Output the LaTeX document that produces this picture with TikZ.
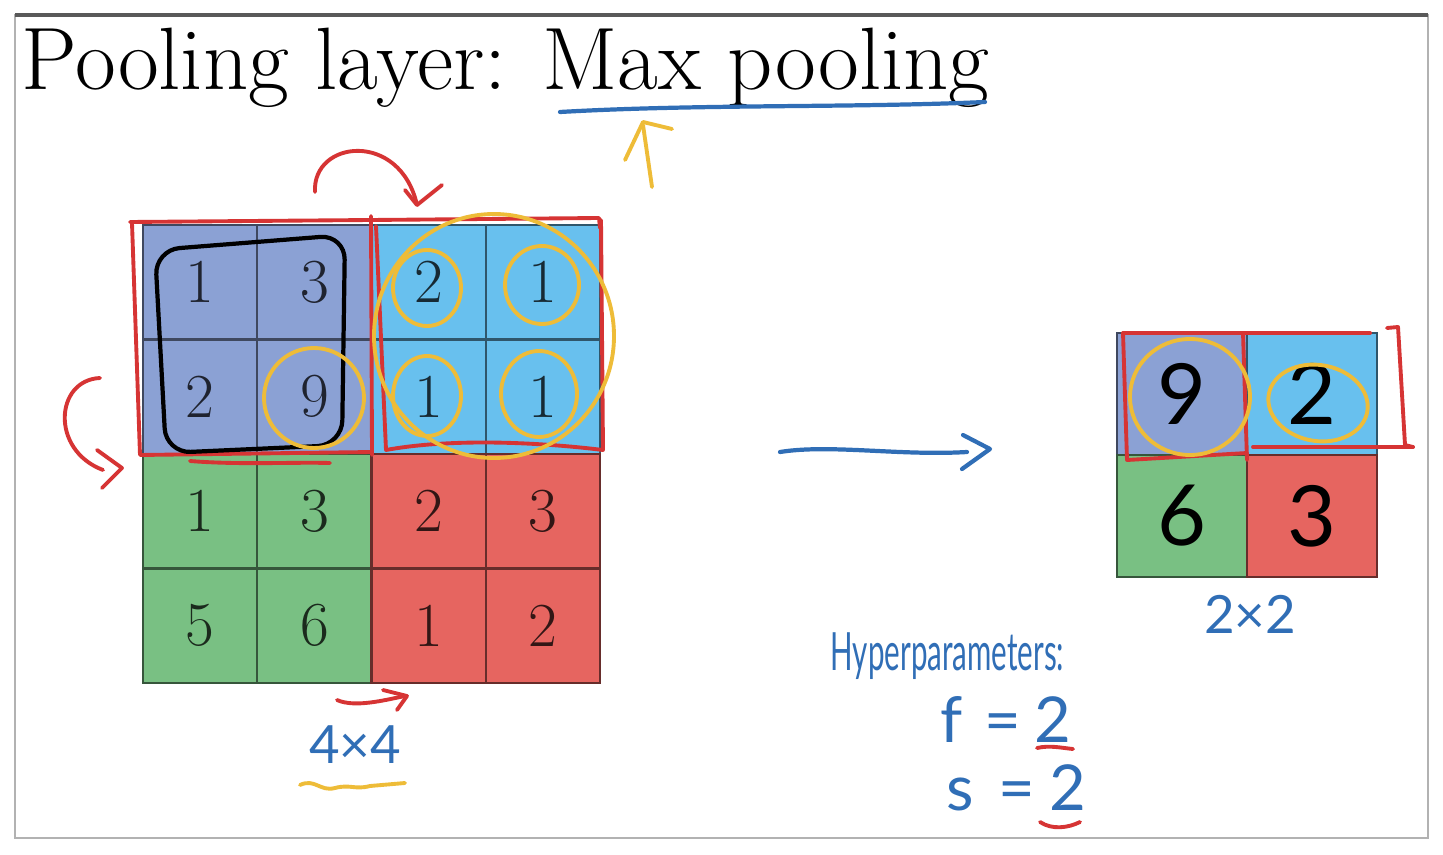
\documentclass[tikz,border=0pt]{standalone}
\usepackage{fontspec}
\newfontfamily\hand{Lato}
\usetikzlibrary{arrows.meta, positioning, calc}
\definecolor{cTL}{RGB}{139,161,212}
\definecolor{cTR}{RGB}{104,192,238}
\definecolor{cBL}{RGB}{121,192,131}
\definecolor{cBR}{RGB}{230,101,96}
\definecolor{cRed}{RGB}{214,52,52}
\definecolor{cYel}{RGB}{238,188,56}
\definecolor{cBlue}{RGB}{48,110,182}
\tikzset{
	cell/.style   ={rectangle, minimum width=1.1425cm, minimum height=1.145cm, inner sep=0pt, line width=0.6pt, font=\fontsize{17.8}{20}\selectfont},
	outcell/.style={rectangle, minimum width=1.3cm, minimum height=1.22cm, inner sep=0pt, line width=0.6pt, font=\hand\fontsize{24}{26}\selectfont},
	redpen/.style ={draw=cRed, line width=1.1pt, line cap=round, line join=round},
	yelpen/.style ={draw=cYel, line width=1.1pt, line cap=round, line join=round},
	bluepen/.style={draw=cBlue, line width=1.2pt, line cap=round, line join=round},
	inkpen/.style ={draw=black, line width=1.2pt, line cap=round, rounded corners=7pt},
	note/.style   ={text=cBlue, font=\hand\fontsize{15}{17}\selectfont, inner sep=0pt},
}

\begin{document}
\begin{tikzpicture}[x=0.01cm, y=-0.01cm,
					title/.style={font=\fontsize{25.2}{28}\selectfont, inner sep=0pt}]
	\fill[white] (0,0) rectangle (1443,855);
	\useasboundingbox (0,0) rectangle (1443,855);
	\draw[gray!60, line width=0.8pt] (15,15) rectangle (1428,838);
	\draw[gray!70!black, line width=1.2pt] (15,15) -- (1428,15);

	\node[title, anchor=base west] (title) at (21,90) {Pooling layer: Max pooling};
	\draw[bluepen] (560,112) .. controls (700,104) and (850,108) .. (985,102);
	\draw[yelpen] (652,187) -- (643,125);
	\draw[yelpen] (625,160) -- (643,122) -- (672,129);

	\foreach \v/\i/\j/\c in {1/0/0/cTL, 3/1/0/cTL, 2/0/1/cTL, 9/1/1/cTL,
							 2/2/0/cTR, 1/3/0/cTR, 1/2/1/cTR, 1/3/1/cTR,
							 1/0/2/cBL, 3/1/2/cBL, 5/0/3/cBL, 6/1/3/cBL,
							 2/2/2/cBR, 3/3/2/cBR, 1/2/3/cBR, 2/3/3/cBR}
		\node[cell, fill=\c, draw=\c!45!black, text=\c!22!black] (a\j\i) at ({143+114.25*(\i+0.5)},{225+114.5*(\j+0.5)}) {\v};

	\foreach \v/\i/\j/\c in {9/0/0/cTL, 2/1/0/cTR, 6/0/1/cBL, 3/1/1/cBR}
		\node[outcell, fill=\c, draw=\c!45!black] (b\j\i) at ({1117+130*(\i+0.5)},{333+122*(\j+0.5)}) {\v};

	\node[note] (dimA) at (355,745) {4×4};
	\node[note] (dimB) at (1250,614) {2×2};
	\node[note, anchor=base west] (hyp) at (830,670) {\scalebox{0.56}[1]{Hyperparameters:}};
	\node[note, anchor=base west, font=\hand\fontsize{18}{20}\selectfont] (fval) at (940,742) {f\hspace{6pt}=\hspace{4pt}2};
	\node[note, anchor=base west, font=\hand\fontsize{18}{20}\selectfont] (sval) at (946,810) {s\hspace{7pt}=\hspace{4pt}2};
	\draw[redpen] (1037,748) .. controls (1050,745) and (1062,748) .. (1073,749);
	\draw[redpen] (1040,822) .. controls (1052,830) and (1068,828) .. (1080,822);

	\draw[redpen] (130,222) -- (371,220) -- (599,218) -- (600,228);
	\draw[redpen] (132,223) -- (140,455) -- (372,452);
	\draw[redpen] (371,216) -- (372,455);
	\draw[redpen] (190,461) .. controls (240,465) and (290,462) .. (330,463);
	\draw[redpen] (376,226) -- (386,450) .. controls (440,440) and (520,440) .. (603,450) -- (601,220);
	\draw[inkpen] (155,250) -- (345,235) -- (342,445) -- (166,453) -- cycle;
	\draw[yelpen] (314,398) ellipse [x radius=50, y radius=50];
	\draw[yelpen] (427,288) ellipse [x radius=34, y radius=38];
	\draw[yelpen] (542,285) ellipse [x radius=37, y radius=39];
	\draw[yelpen] (427,396) ellipse [x radius=34, y radius=40];
	\draw[yelpen] (539,394) ellipse [x radius=38, y radius=43];
	\draw[yelpen] (494,336) ellipse [x radius=120, y radius=122];

	\draw[redpen] (315,192) .. controls (312,140) and (400,130) .. (417,205);
	\draw[redpen] (405,190) -- (417,205) -- (442,185);
	\draw[redpen] (100,378) .. controls (55,380) and (50,450) .. (103,470);
	\draw[redpen] (97,450) -- (122,468) -- (102,488);
	\draw[redpen] (337,700) .. controls (355,708) and (385,700) .. (405,696);
	\draw[redpen] (383,690) -- (407,696) -- (397,710);
	\draw[yelpen] (300,785) .. controls (315,778) and (320,792) .. (335,788) .. controls (350,784) and (355,790) .. (370,786) -- (405,783);

	\coordinate (arrS) at (780,452);
	\coordinate (arrE) at (967,452);
	\draw[bluepen] (arrS) .. controls (830,444) and (900,456) .. (arrE);
	\draw[bluepen] (963,435) -- (990,449) -- (962,469);

	\draw[redpen] (1123,333) -- (1370,333);
	\draw[redpen] (1123,333) -- (1127,460) -- (1247,453);
	\draw[redpen] (1243,333) -- (1247,460);
	\draw[redpen] (1253,447) -- (1413,447);
	\draw[redpen] (1387,328) -- (1398,327) -- (1405,445) -- (1413,447);
	\draw[yelpen] (1190,397) ellipse [x radius=60, y radius=58];
	\draw[yelpen, rotate around={-10:(1318,403)}] (1318,403) ellipse [x radius=50, y radius=38];
\end{tikzpicture}
\end{document}
